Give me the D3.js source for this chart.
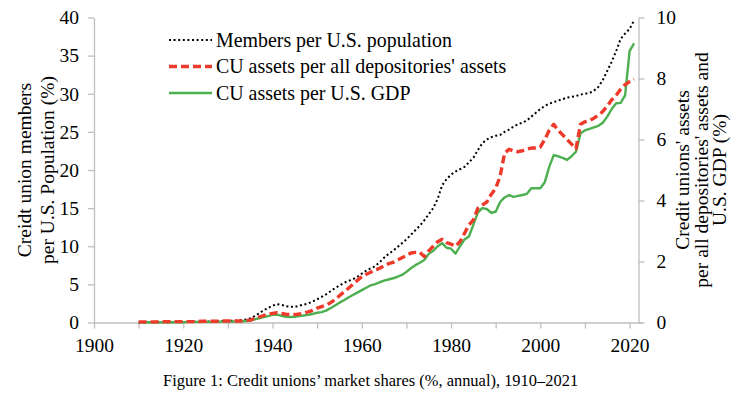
<!DOCTYPE html>
<html><head><meta charset="utf-8">
<script src="https://cdn.jsdelivr.net/npm/d3@7"></script>
<style>body{margin:0;background:#fff}svg{display:block}text{font-family:"Liberation Serif","Times New Roman",serif;fill:#000}</style>
</head><body><svg id="c" width="750" height="398"></svg>
<script>
const years = d3.range(1910, 2022);
// Members per U.S. population (%), left axis
const members = [0.01,0.01,0.02,0.02,0.02,0.03,0.03,0.04,0.05,0.06,
0.07,0.08,0.09,0.10,0.11,0.12,0.14,0.15,0.17,0.19,
0.21,0.23,0.25,0.30,0.40,0.55,0.85,1.2,1.6,1.9,
2.2,2.4,2.3,2.15,2.05,2.05,2.2,2.35,2.5,2.75,
3.05,3.35,3.7,4.1,4.5,4.85,5.2,5.45,5.65,6.0,
6.4,6.8,7.1,7.4,7.9,8.5,9.0,9.4,9.9,10.4,
10.9,11.5,12.1,12.7,13.4,14.2,15.0,16.2,18.0,18.8,
19.4,19.8,20.1,20.4,21.0,21.6,22.6,23.5,24.0,24.3,
24.5,24.6,25.0,25.3,25.7,26.0,26.2,26.5,27.0,27.5,
28.0,28.4,28.7,28.9,29.1,29.3,29.5,29.6,29.7,29.9,
30.0,30.1,30.4,30.9,31.8,33.0,34.2,35.6,37.2,37.9,
38.5,39.6];
// CU assets per all depositories' assets (%), right axis
const depShare = [0.02,0.02,0.02,0.02,0.02,0.03,0.03,0.03,0.03,0.03,
0.03,0.03,0.03,0.03,0.04,0.04,0.04,0.04,0.04,0.05,
0.05,0.05,0.05,0.05,0.06,0.08,0.13,0.18,0.23,0.27,
0.30,0.32,0.30,0.27,0.26,0.26,0.28,0.31,0.35,0.40,
0.47,0.52,0.57,0.65,0.75,0.88,1.00,1.12,1.25,1.38,
1.50,1.58,1.65,1.72,1.78,1.86,1.93,1.97,2.05,2.12,
2.20,2.28,2.30,2.30,2.16,2.35,2.50,2.65,2.73,2.62,
2.57,2.50,2.65,2.92,3.20,3.36,3.74,3.85,3.95,4.20,
4.40,4.80,5.55,5.68,5.62,5.60,5.63,5.68,5.72,5.72,
5.75,6.00,6.30,6.50,6.30,6.15,6.00,5.85,5.70,6.50,
6.58,6.62,6.70,6.80,6.92,7.10,7.30,7.45,7.65,7.80,
7.90,7.98];
// CU assets per U.S. GDP (%), right axis
const gdpShare = [0.01,0.01,0.01,0.01,0.01,0.01,0.01,0.01,0.01,0.01,
0.01,0.02,0.02,0.02,0.02,0.02,0.02,0.02,0.03,0.03,
0.03,0.03,0.04,0.04,0.05,0.06,0.10,0.14,0.18,0.21,
0.25,0.26,0.22,0.19,0.18,0.19,0.21,0.23,0.25,0.28,
0.32,0.34,0.39,0.47,0.56,0.65,0.73,0.82,0.90,0.98,
1.06,1.14,1.22,1.26,1.32,1.37,1.41,1.45,1.50,1.56,
1.66,1.78,1.88,1.96,2.05,2.25,2.35,2.50,2.60,2.45,
2.42,2.26,2.50,2.72,2.82,3.20,3.60,3.75,3.72,3.60,
3.63,3.95,4.10,4.18,4.12,4.15,4.18,4.22,4.40,4.40,
4.40,4.60,5.10,5.49,5.45,5.40,5.33,5.45,5.60,6.20,
6.30,6.35,6.40,6.45,6.55,6.75,7.00,7.19,7.20,7.45,
8.90,9.15];
const xTicks = d3.range(1900, 2021, 10);
const leftTicks = d3.range(0, 41, 5);
const rightTicks = d3.range(0, 11, 2);
const legendLabels = ["Members per U.S. population","CU assets per all depositories' assets","CU assets per U.S. GDP"];

const svg = d3.select("#c");
svg.append("rect").attr("width",750).attr("height",398).attr("fill","#fff");
const L=94, R=638.5, T=17.5, B=322.5;
const x = d3.scaleLinear().domain([1900,2022]).range([L,R]);
const yL = d3.scaleLinear().domain([0,40]).range([B,T]);
const yR = d3.scaleLinear().domain([0,10]).range([B,T]);
const axisColor="#bfbfbf", fs=19.5;

function styleAxis(g){
  g.selectAll("path.domain").attr("stroke",axisColor).attr("stroke-width",1.3);
  g.selectAll(".tick line").attr("stroke",axisColor).attr("stroke-width",1.3);
  g.selectAll(".tick text").attr("font-size",fs).attr("font-family","Liberation Serif");
}
const gx = svg.append("g").attr("transform",`translate(0,${B})`)
  .call(d3.axisBottom(x).tickValues(xTicks).tickSize(6).tickPadding(10).tickSizeOuter(0)
  .tickFormat(d=> d%20===0 ? String(d) : ""));
styleAxis(gx);
gx.select("path.domain").attr("d",`M${L},0.5H${R+4}`);
const gl = svg.append("g").attr("transform",`translate(${L},0)`)
  .call(d3.axisLeft(yL).tickValues(leftTicks).tickSize(6).tickPadding(9).tickSizeOuter(0));
styleAxis(gl);
const gr = svg.append("g").attr("transform",`translate(${R},0)`)
  .call(d3.axisRight(yR).tickValues(rightTicks).tickSize(6).tickPadding(12).tickSizeOuter(0));
styleAxis(gr);

const lineM = d3.line().x((d,i)=>x(years[i])).y(d=>yL(d));
const lineR = d3.line().x((d,i)=>x(years[i])).y(d=>yR(d));
const styles = [
  {stroke:"#000", w:2, dash:"2,2.6"},
  {stroke:"#ee3a2b", w:3.4, dash:"8,4"},
  {stroke:"#4caf50", w:2.4, dash:null}
];
svg.append("path").attr("d",lineM(members)).attr("fill","none").attr("stroke",styles[0].stroke)
  .attr("stroke-width",styles[0].w).attr("stroke-dasharray",styles[0].dash);
svg.append("path").attr("d",lineR(gdpShare)).attr("fill","none").attr("stroke",styles[2].stroke)
  .attr("stroke-width",styles[2].w).attr("stroke-linejoin","round");
svg.append("path").attr("d",lineR(depShare)).attr("fill","none").attr("stroke",styles[1].stroke)
  .attr("stroke-width",styles[1].w).attr("stroke-dasharray",styles[1].dash).attr("stroke-linejoin","round");

// legend
const leg = svg.append("g");
const legY = [40, 66.5, 93];
legendLabels.forEach((t,i)=>{
  const s = styles[i];
  leg.append("line").attr("x1",169).attr("x2",212).attr("y1",legY[i]).attr("y2",legY[i])
    .attr("stroke",s.stroke).attr("stroke-width",s.w).attr("stroke-dasharray",s.dash);
  leg.append("text").attr("x",216).attr("y",legY[i]+6.5).attr("font-size",19.9).text(t);
});

// axis titles
const lt = svg.append("text").attr("transform","translate(0,170) rotate(-90)").attr("text-anchor","middle").attr("font-size",19.5);
lt.append("tspan").attr("x",0).attr("y",31).text("Creidt union members");
lt.append("tspan").attr("x",0).attr("y",53.5).text("per U.S. Population (%)");
const rt = svg.append("text").attr("transform","translate(0,170) rotate(-90)").attr("text-anchor","middle").attr("font-size",19.5);
rt.append("tspan").attr("x",0).attr("y",689).text("Credit unions' assets");
rt.append("tspan").attr("x",0).attr("y",707.5).text("per all depositories' assets and");
rt.append("tspan").attr("x",0).attr("y",725.5).text("U.S. GDP (%)");

svg.append("text").attr("x",163).attr("y",386).attr("font-size",16.45)
  .text("Figure 1: Credit unions\u2019 market shares (%, annual), 1910\u20132021");
</script></body></html>
